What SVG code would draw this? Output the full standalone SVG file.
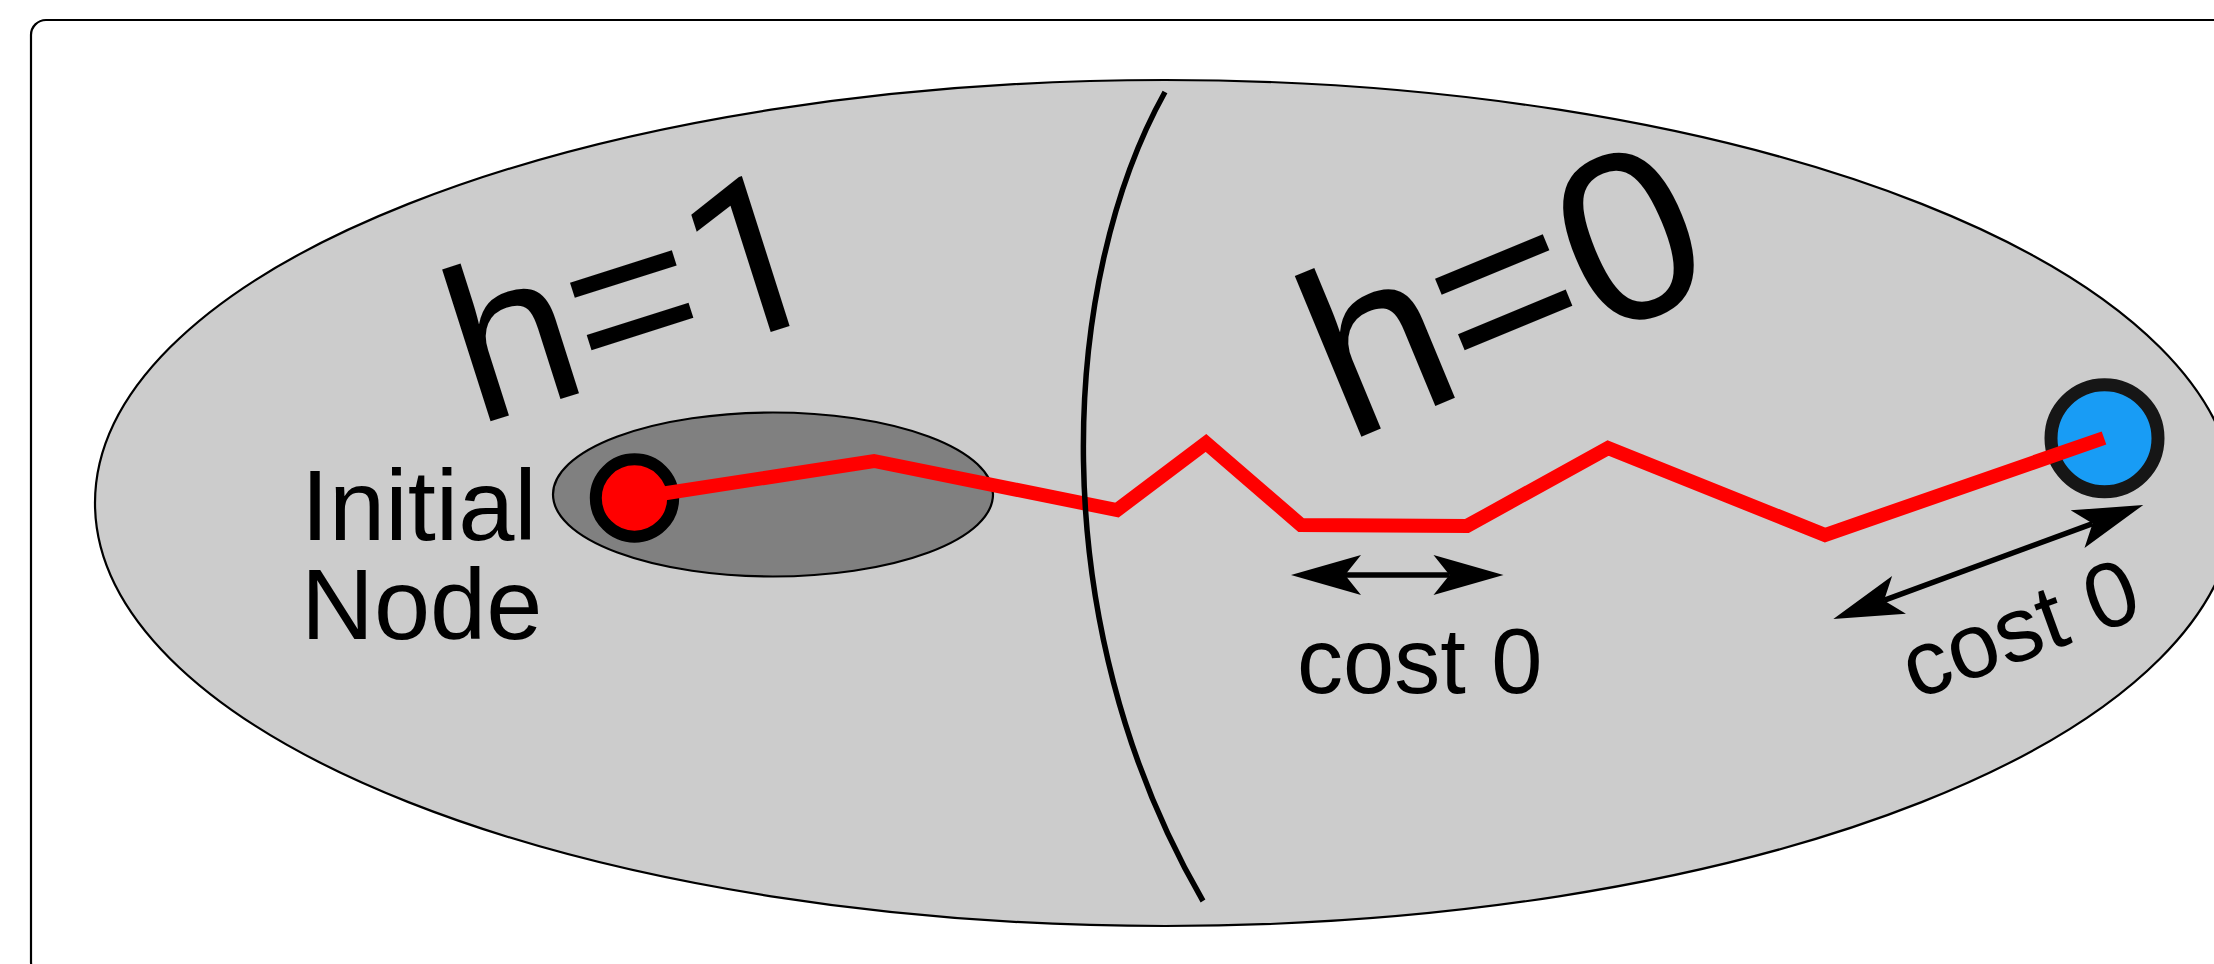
<svg xmlns="http://www.w3.org/2000/svg" width="2214" height="964" viewBox="0 0 2214 964">
<style>
.lbl{font-family:"Liberation Sans",Arial,Helvetica,sans-serif;fill:#000}
.arrow{stroke:#000;stroke-width:5.5;fill:none;marker-start:url(#ah);marker-end:url(#ah)}
.path{stroke:#ff0000;stroke-width:14;fill:none;stroke-linejoin:miter;stroke-miterlimit:10}
</style>
<defs>
<marker id="ah" markerUnits="userSpaceOnUse" viewBox="-17 -21 72 42" markerWidth="72" markerHeight="42" refX="0" refY="0" orient="auto-start-reverse">
<path d="M54,0 L-16,-20 L0,0 L-16,20 Z" fill="#000"/>
</marker>
</defs>
<rect x="31" y="20" width="2400" height="957" rx="15" ry="15" fill="#fff" stroke="#000" stroke-width="2.2"/>
<g id="region-outer">
<ellipse cx="1165" cy="503" rx="1070" ry="423" fill="#cccccc" stroke="#000" stroke-width="2.2"/>
</g>
<g id="region-inner">
<ellipse cx="773" cy="494.5" rx="220" ry="82" fill="#808080" stroke="#000" stroke-width="2.2"/>
</g>
<g id="labels">
<text class="lbl" x="301" y="540" font-size="101">Initial</text>
<text class="lbl" x="301" y="639" font-size="101">Node</text>
<text class="lbl" font-size="220" transform="translate(476,426) rotate(-17.7)">h=<tspan font-family="Roboto, 'Liberation Sans', sans-serif">1</tspan></text>
<text class="lbl" font-size="240" transform="translate(1346,443) rotate(-22.5)">h=0</text>
<text class="lbl" x="1297" y="693" font-size="92">cost 0</text>
<text class="lbl" font-size="92" transform="translate(1915,700) rotate(-20)">cost 0</text>
</g>
<g id="connectors">
<line class="arrow" x1="1345" y1="575" x2="1449.5" y2="575"/>
<line class="arrow" x1="1884" y1="600.4" x2="2092.6" y2="523.6"/>
</g>
<g id="initial-node">
<circle cx="634.5" cy="498" r="38.7" fill="#ff0000" stroke="#000" stroke-width="12"/>
</g>
<g id="goal-node">
<circle cx="2104.5" cy="438.3" r="53.5" fill="#189cf5" stroke="#161616" stroke-width="13"/>
</g>
<g id="solution-path">
<polyline class="path" points="634.5,498 874,461 1117,510 1206,443 1301,525 1467,526 1608,448 1825,535 2104,438"/>
</g>
<g id="divider">
<path d="M1165,92 C1060,280 1040,620 1203,901" fill="none" stroke="#000" stroke-width="5.5"/>
</g>
</svg>
